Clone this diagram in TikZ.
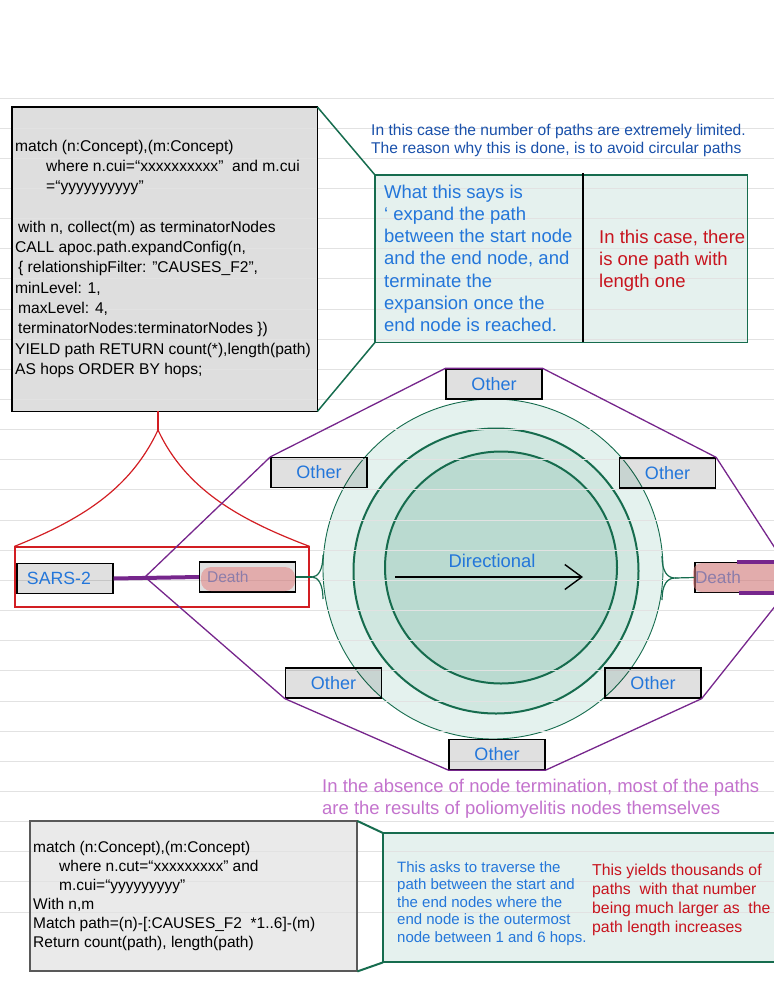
\documentclass[tikz,border=0pt]{standalone}
\usepackage{fontspec}
\setmainfont{Liberation Sans}
\usetikzlibrary{arrows.meta}

\definecolor{pathgreen}{RGB}{22,108,78}
\definecolor{ringout}{RGB}{228,242,238}
\definecolor{ringmid}{RGB}{208,231,224}
\definecolor{ringin}{RGB}{186,218,208}
\definecolor{notefill}{RGB}{229,241,238}
\definecolor{codefill}{RGB}{222,222,222}
\definecolor{codefilltwo}{RGB}{234,234,234}
\definecolor{textblue}{RGB}{35,118,218}
\definecolor{textnavy}{RGB}{25,80,170}
\definecolor{textred}{RGB}{200,20,30}
\definecolor{textorchid}{RGB}{195,115,205}
\definecolor{hubpurple}{RGB}{118,38,140}
\definecolor{forkred}{RGB}{210,30,35}
\definecolor{hilite}{RGB}{228,130,130}
\definecolor{ruling}{RGB}{226,226,226}

\tikzset{
  bigbox/.style={inner sep=0pt,anchor=north west},
  codeedge/.style={draw=black,line width=1.5pt},
  noteedge/.style={draw=pathgreen,line width=1.5pt},
  nodebox/.style={draw=black,line width=1.3pt,fill=black,fill opacity=0.12,text opacity=1,
    minimum width=96pt,minimum height=30pt,inner sep=0pt,text=textblue,
    font=\fontsize{18}{20}\selectfont},
  words/.style={inner sep=0pt,anchor=base west,align=left},
  greenline/.style={pathgreen,line width=1.2pt},
  hubline/.style={hubpurple,line width=1.3pt},
  forkline/.style={forkred,line width=1.2pt},
  rule/.style={ruling,line width=1pt},
}

\begin{document}
\begin{tikzpicture}[x=1pt,y=-1pt]
  \useasboundingbox (0,0) rectangle (774,999);

  % rings
  \coordinate (ctr) at (493,569);
  \draw[greenline,line width=0.9pt,fill=ringout] (ctr) circle [radius=170];
  \draw[greenline,line width=2pt,fill=ringmid] (496,571) circle [radius=142.5];
  \draw[greenline,line width=2pt,fill=ringin] (501,567.5) circle [radius=116];

  % big boxes
  \node[bigbox,fill=codefill,minimum width=305pt,minimum height=304pt] (q1) at (12,107) {};
  \node[bigbox,fill=notefill,minimum width=372pt,minimum height=167pt] (note1) at (375,175) {};
  \node[bigbox,fill=codefilltwo,minimum width=327pt,minimum height=150pt] (q2) at (30,821) {};
  \node[bigbox,fill=notefill,minimum width=410pt,minimum height=129pt] (note2) at (383,833) {};

  % ruled paper
  \foreach \k in {0,...,27}
    \draw[rule] (0,{98+30.15*\k}) -- (774,{98+30.15*\k});

  \draw[codeedge] (q1.north west) rectangle (q1.south east);
  \draw[noteedge] (note1.north west) rectangle (note1.south east);
  \draw[codeedge,draw=black!65,line width=2pt] (q2.north west) rectangle (q2.south east);
  \draw[noteedge,line width=2pt] (note2.north west) rectangle (note2.south east);
  \draw[line width=1.5pt] ([xshift=208pt,yshift=2pt]note1.north west) -- ([xshift=208pt]note1.south west);

  \draw[greenline,line width=1.5pt] (q1.north east) -- (note1.north west);
  \draw[greenline,line width=1.5pt] (q1.south east) -- (note1.south west);
  \draw[greenline,line width=2pt] (q2.north east) -- (note2.north west);
  \draw[greenline,line width=2pt] (q2.south east) -- (note2.south west);

  % path nodes
  \node[draw=forkred,line width=1.2pt,minimum width=294pt,minimum height=60pt,inner sep=0pt] (redbox) at (162,577) {};
  \node[nodebox,font=\fontsize{17.7}{20}\selectfont,text width=76pt,align=left] (sars) at (65,578.5) {SARS-2};
  \node[nodebox,font=\fontsize{15.6}{18}\selectfont,text width=81pt,align=left] (deathL) at (247.5,577) {Death};
  \node[nodebox,font=\fontsize{17.2}{20}\selectfont,text width=100pt,align=left] (deathR) at (745,577.5) {Death};
  \node[nodebox] (oT) at (494,384) {Other};
  \node[nodebox] (oTL) at (319,472.5) {Other};
  \node[nodebox] (oTR) at (667.5,473) {Other};
  \node[nodebox] (oBL) at (333.5,683) {Other};
  \node[nodebox] (oBR) at (653,683) {Other};
  \node[nodebox] (oB) at (497,754.5) {Other};

  \fill[hilite,fill opacity=0.55,rounded corners=10pt] (201,567) rectangle (295,591);
  \fill[hilite,fill opacity=0.55,rounded corners=9pt] (693,563) rectangle (800,592);

  % red fork
  \coordinate (fork) at (158,430);
  \draw[forkline] (fork |- q1.south) -- (fork);
  \draw[forkline] (fork) .. controls (130,490) and (80,520) .. (redbox.north west);
  \draw[forkline] (fork) .. controls (186,490) and (240,520) .. (redbox.north east);

  % purple hull
  \coordinate (hub) at (145,577);
  \coordinate (rimtop) at (784,562);
  \coordinate (rimbot) at (784,595);
  \draw[hubline,line width=4pt] (sars.east) -- (deathL.west);
  \draw[hubline] (hub) -- (oTL.north west) -- (oT.north west) -- (oT.north east) -- (oTR.north east) -- (rimtop);
  \draw[hubline] (hub) -- (oBL.south west) -- (oB.south west) -- (oB.south east) -- (oBR.south east) -- (rimbot);
  \draw[hubline,line width=3.5pt] ([xshift=43pt]deathR.north west) -- (deathR.north east);
  \draw[hubline,line width=3.5pt] ([xshift=45pt]deathR.south west) -- (deathR.south east);

  % braces
  \coordinate (ltip) at (312,577);
  \coordinate (rtip) at (675,578);
  \draw[greenline] (deathL.east) -- (ltip);
  \draw[greenline] (323,555) .. controls (323,570) and (318,577) .. (ltip) .. controls (318,577) and (323,584) .. (323,599);
  \draw[greenline] (rtip) -- (deathR.west);
  \draw[greenline] (662,556) .. controls (662,571) and (667,578) .. (rtip) .. controls (667,578) and (662,585) .. (662,600);

  % direction
  \coordinate (dirtail) at (395,577);
  \coordinate (dirhead) at (583,577);
  \draw[-{Straight Barb[length=17pt,width=25pt]},line width=1.4pt] (dirtail) -- (dirhead);
  \node[inner sep=0pt,text=textblue,font=\fontsize{18.4}{20}\selectfont] (dirlabel) at (492,561) {Directional};

  % texts (anchored at the baseline of their last line)
  \node[words,font=\fontsize{15.6}{20.3}\selectfont] (q1text) at (15,374.3) {match (n:Concept),(m:Concept)\\
    \hspace*{31pt}where n.cui=“xxxxxxxxxx”\ \ and m.cui\\
    \hspace*{31pt}=“yyyyyyyyyy”\\[20.3pt]
    \hspace*{3pt}with n, collect(m) as terminatorNodes\\
    CALL apoc.path.expandConfig(n,\\
    \hspace*{3pt}\{ relationshipFilter: "CAUSES\_F2",\\
    minLevel: 1,\\
    \hspace*{3pt}maxLevel: 4,\\
    \hspace*{3pt}terminatorNodes:terminatorNodes \})\\
    YIELD path RETURN count(*),length(path)\\
    AS hops ORDER BY hops;};
  \node[words,text=textnavy,font=\fontsize{15.6}{18.3}\selectfont] (remark1) at (371,153.9)
    {In this case the number of paths are extremely limited.\\The reason why this is done, is to avoid circular paths};
  \node[words,text=textblue,font=\fontsize{18.5}{22.1}\selectfont] (note1left) at (384,331.2)
    {What this says is\\‘ expand the path\\between the start node\\and the end node, and\\terminate the\\expansion once the\\end node is reached.};
  \node[words,text=textred,font=\fontsize{18.5}{22.1}\selectfont] (note1right) at (599,287.8)
    {In this case, there\\is one path with\\length one};

  \node[words,text=textorchid,font=\fontsize{18.5}{22}\selectfont] (remark2) at (322,814.6)
    {In the absence of node termination, most of the paths\\are the results of poliomyelitis nodes themselves};
  \node[words,font=\fontsize{15.5}{19}\selectfont] (q2text) at (33,947.5) {match (n:Concept),(m:Concept)\\
    \hspace*{26pt}where n.cut=“xxxxxxxxx” and\\
    \hspace*{26pt}m.cui=“yyyyyyyyy”\\
    With n,m\\
    Match path=(n)-[:CAUSES\_F2\ \ *1..6]-(m)\\
    Return count(path), length(path)};
  \node[words,text=textblue,font=\fontsize{15}{17.5}\selectfont] (note2left) at (397,942.4)
    {This asks to traverse the\\path between the start and\\the end nodes where the\\end node is the outermost\\node between 1 and 6 hops.};
  \node[words,text=textred,font=\fontsize{15.8}{19}\selectfont] (note2right) at (592,932.7)
    {This yields thousands of\\paths\ \ with that number\\being much larger as\ \ the\\path length increases};
\end{tikzpicture}
\end{document}
